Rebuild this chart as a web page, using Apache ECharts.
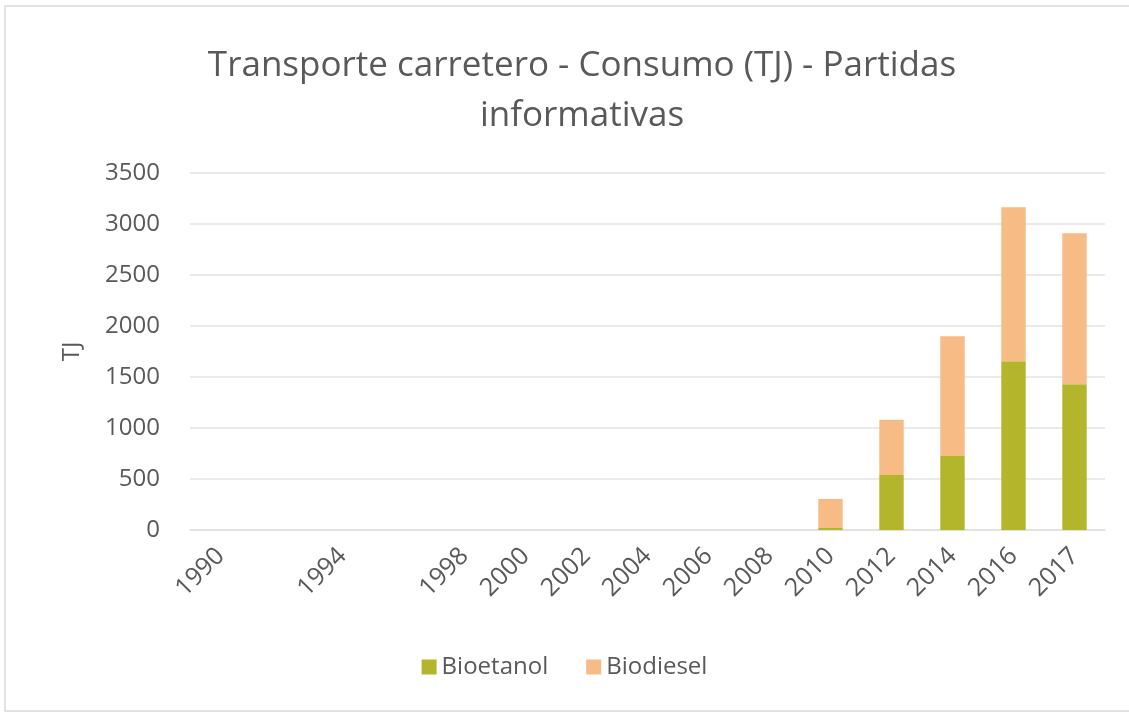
<!DOCTYPE html>
<html>
<head>
<meta charset="utf-8">
<script src="https://cdn.jsdelivr.net/npm/echarts@6/dist/echarts.min.js"></script>
<style>
  html, body { margin: 0; padding: 0; background: #fff; }
  #chart { width: 1129px; height: 714px; }
</style>
</head>
<body>
<div id="chart"></div>
<script>
// años (dos categorías sin etiqueta en el original)
var years = ['1990', '', '1994', '', '1998', '2000', '2002', '2004', '2006', '2008', '2010', '2012', '2014', '2016', '2017'];
var bioetanol = [0, 0, 0, 0, 0, 0, 0, 0, 0, 0, 20, 540, 725, 1655, 1430];
var biodiesel = [0, 0, 0, 0, 0, 0, 0, 0, 0, 0, 285, 540, 1175, 1510, 1480];
var yTicks = [0, 500, 1000, 1500, 2000, 2500, 3000, 3500];

var textColor = '#595959';
var fontFam = '"Open Sans", "Noto Sans", sans-serif';

var chart = echarts.init(document.getElementById('chart'));

chart.setOption({
  animation: false,
  textStyle: { fontFamily: fontFam, color: textColor },
  graphic: [
    {
      type: 'rect',
      shape: { x: 5, y: 6, width: 1130, height: 705 },
      style: { fill: 'none', stroke: '#d9d9d9', lineWidth: 1.5 },
      silent: true
    }
  ],
  title: {
    text: 'Transporte carretero - Consumo (TJ) - Partidas\ninformativas',
    left: 577,
    textAlign: 'center',
    top: 36,
    textStyle: {
      fontFamily: fontFam,
      fontSize: 35,
      fontWeight: 'normal',
      color: textColor,
      lineHeight: 50
    }
  },
  legend: {
    top: 650,
    left: 'center',
    itemWidth: 15,
    itemHeight: 15,
    itemGap: 38,
    icon: 'rect',
    textStyle: { fontSize: 24, color: textColor, fontFamily: fontFam },
    data: ['Bioetanol', 'Biodiesel']
  },
  grid: {
    left: 190,
    right: 24,
    top: 173,
    bottom: 184
  },
  xAxis: {
    type: 'category',
    data: years,
    axisTick: { show: false },
    axisLine: { show: true, lineStyle: { color: '#e0e0e0', width: 1.5 } },
    axisLabel: {
      interval: 0,
      rotate: 45,
      margin: 22,
      fontSize: 25,
      color: textColor,
      fontFamily: fontFam
    }
  },
  yAxis: {
    type: 'value',
    name: 'TJ',
    nameLocation: 'middle',
    nameGap: 106,
    nameTextStyle: { fontSize: 24, color: textColor },
    min: yTicks[0],
    max: yTicks[yTicks.length - 1],
    interval: 500,
    axisLine: { show: false },
    axisTick: { show: false },
    axisLabel: {
      fontSize: 24,
      color: textColor,
      margin: 30,
      formatter: function (v) { return String(v); }
    },
    splitLine: { lineStyle: { color: '#e3e3e3', width: 1.5 } }
  },
  series: [
    {
      name: 'Bioetanol',
      type: 'bar',
      stack: 'total',
      barWidth: '40%',
      itemStyle: { color: '#b3b52b' },
      data: bioetanol
    },
    {
      name: 'Biodiesel',
      type: 'bar',
      stack: 'total',
      barWidth: '40%',
      itemStyle: { color: '#f7bb86' },
      data: biodiesel
    }
  ]
});
</script>
</body>
</html>
